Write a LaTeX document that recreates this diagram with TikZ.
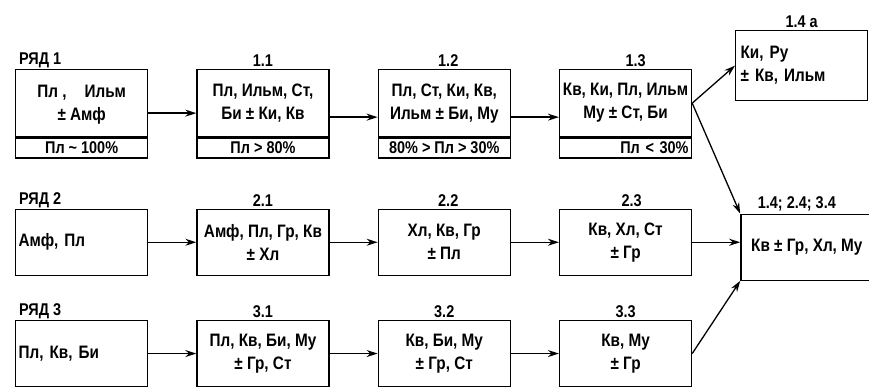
\documentclass[tikz,border=0pt]{standalone}
\usepackage{fontspec}
\setmainfont[FakeStretch=0.85]{Liberation Sans}
\usetikzlibrary{positioning,arrows.meta}

\begin{document}
\begin{tikzpicture}[x=1pt, y=1pt,
        node distance=48pt and 48pt,
        stage/.style={rectangle, draw, line width=1.3pt, minimum width=132pt, minimum height=67pt, inner sep=2pt, align=center, font=\fontsize{18}{23}\selectfont\bfseries},
        share/.style={rectangle, draw, line width=1.3pt, minimum width=132pt, minimum height=20pt, inner sep=1pt, font=\fontsize{17}{17}\selectfont\bfseries},
        tag/.style={font=\fontsize{17}{17}\selectfont\bfseries, inner sep=1pt},
        link/.style={draw, line width=1.3pt, -{Stealth[length=11pt, width=7pt]}}]
    \useasboundingbox (0,0) rectangle (869,-390);
    % row 1
    \node[stage, text depth=-6pt] (r1) at (15,-69) [anchor=north west] {Пл ,\quad Ильм\\± Амф};
    \node[share] (r1p) [below=0pt of r1] {Пл \textasciitilde{} 100\%};
    \node[stage] (s11) [right=of r1] {Пл, Ильм, Ст,\\Би ± Ки, Кв};
    \node[share] (s11p) [below=0pt of s11] {Пл > 80\%};
    \node[stage] (s12) [right=of s11] {Пл, Ст, Ки, Кв,\\Ильм ± Би, Му};
    \node[share] (s12p) [below=0pt of s12] {80\% > Пл > 30\%};
    \node[stage] (s13) [right=of s12] {Кв, Ки, Пл, Ильм\\Му ± Ст, Би};
    \node[share, text width=126pt, align=right] (s13p) [below=0pt of s13] {Пл < 30\%};
    \node[stage, minimum height=70pt, text width=122pt, align=left] (s14a) at (735,-30) [anchor=north west] {Ки, Ру\\± Кв, Ильм};
    % row 2
    \node[stage, minimum height=66pt, text width=126pt, align=left] (r2) [below=50pt of r1p] {Амф, Пл};
    \node[stage, minimum height=66pt] (s21) [right=of r2] {Амф, Пл, Гр, Кв\\± Хл};
    \node[stage, minimum height=66pt] (s22) [right=of s21] {Хл, Кв, Гр\\± Пл};
    \node[stage, minimum height=66pt] (s23) [right=of s22] {Кв, Хл, Ст\\± Гр};
    \node[stage, minimum height=66pt] (s4) [right=of s23, yshift=-5pt] {Кв ± Гр, Хл, Му};
    % row 3
    \node[stage, minimum height=66pt, text width=126pt, align=left] (r3) [below=44pt of r2] {Пл, Кв, Би};
    \node[stage, minimum height=66pt] (s31) [right=of r3] {Пл, Кв, Би, Му\\± Гр, Ст};
    \node[stage, minimum height=66pt] (s32) [right=of s31] {Кв, Би, Му\\± Гр, Ст};
    \node[stage, minimum height=66pt] (s33) [right=of s32] {Кв, Му\\± Гр};
    % labels
    \node[tag, anchor=south west] (t1) at ([xshift=3pt]r1.north west) {РЯД 1};
    \node[tag, anchor=south west] (t2) at ([xshift=3pt]r2.north west) {РЯД 2};
    \node[tag, anchor=south west] (t3) at ([xshift=3pt]r3.north west) {РЯД 3};
    \node[tag, above=1pt of s11] (t11) {1.1};
    \node[tag, above=1pt of s12, xshift=4pt] (t12) {1.2};
    \node[tag, above=1pt of s13, xshift=10pt] (t13) {1.3};
    \node[tag, above=1pt of s14a] (t14a) {1.4 а};
    \node[tag, above=1pt of s21] (t21) {2.1};
    \node[tag, above=1pt of s22, xshift=4pt] (t22) {2.2};
    \node[tag, above=1pt of s23, xshift=6pt] (t23) {2.3};
    \node[tag, above=1pt of s4, xshift=-10pt] (t4) {1.4; 2.4; 3.4};
    \node[tag, above=1pt of s31] (t31) {3.1};
    \node[tag, above=1pt of s32] (t32) {3.2};
    \node[tag, above=1pt of s33] (t33) {3.3};
    % arrows
    \path[link] ([yshift=-10pt]r1.east) -- ([yshift=-10pt]s11.west);
    \path[link] ([yshift=-14pt]s11.east) -- ([yshift=-14pt]s12.west);
    \path[link] ([yshift=-14pt]s12.east) -- ([yshift=-14pt]s13.west);
    \path[link] (s13.east) -- (s14a.west);
    \path[link] (s13.east) -- (s4.north west);
    \path[link] (r2) -- (s21);
    \path[link] (s21) -- (s22);
    \path[link] (s22) -- (s23);
    \path[link] (s23.east) -- (s23.east -| s4.west);
    \path[link] (r3) -- (s31);
    \path[link] (s31) -- (s32);
    \path[link] (s32) -- (s33);
    \path[link] (s33.east) -- (s4.south west);
\end{tikzpicture}
\end{document}
